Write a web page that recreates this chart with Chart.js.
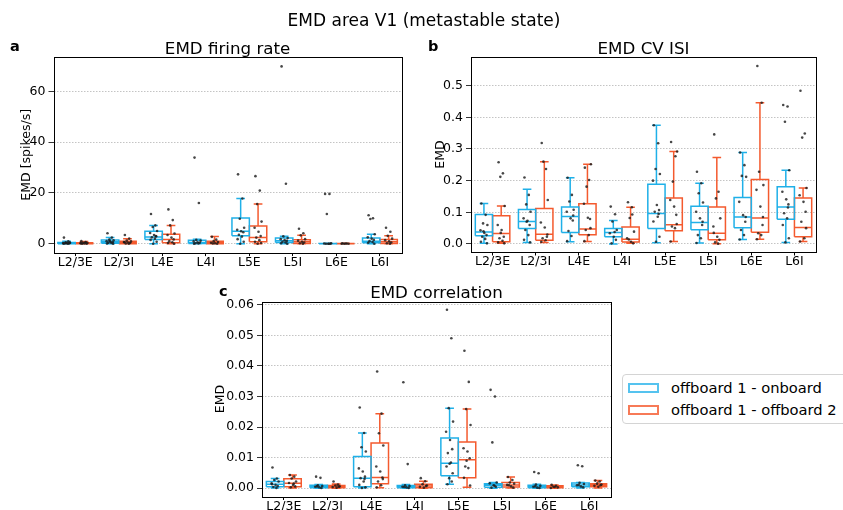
<!DOCTYPE html>
<html lang="en">
<head>
<meta charset="UTF-8">
<title>EMD area V1 (metastable state)</title>
<script src="https://cdn.jsdelivr.net/npm/chart.js"></script>
<style>
  body { margin: 0; background: #fff; font-family: "DejaVu Sans", sans-serif; }
  #page { position: relative; width: 843px; height: 510px; overflow: hidden; }
  #page canvas { position: absolute; left: 0; top: 0; }
  .txt { position: absolute; white-space: nowrap; line-height: 20px; color: #000; }
  .center { transform: translateX(-50%); }
  .letter { font-weight: bold; font-size: 14.5px; }
  .ttl { font-size: 16.7px; }
  #legend { position: absolute; left: 622px; top: 374px; width: 240px; height: 48px;
            border: 1px solid #d4d4d4; border-radius: 4px; background: #fff; }
  #legend .patch { position: absolute; left: 5px; width: 27px; height: 6px; background: #fff;
                   border-width: 2px; border-style: solid; }
  #legend .lab { position: absolute; left: 48px; font-size: 14.7px; line-height: 20px; white-space: nowrap; }
</style>
</head>
<body>
<div id="page">
  <canvas id="rateChart" width="843" height="510"></canvas>
  <canvas id="cvChart" width="843" height="510"></canvas>
  <canvas id="corrChart" width="843" height="510"></canvas>

  <div class="txt center" style="left:424px; top:10px; font-size:17px;">EMD area V1 (metastable state)</div>
  <div class="txt center ttl" style="left:227.6px; top:37.7px;">EMD firing rate</div>
  <div class="txt center ttl" style="left:643.5px; top:37.7px;">EMD CV ISI</div>
  <div class="txt center ttl" style="left:436.5px; top:282.2px;">EMD correlation</div>
  <div class="txt letter" style="left:10px; top:36px;">a</div>
  <div class="txt letter" style="left:428px; top:36px;">b</div>
  <div class="txt letter" style="left:219px; top:280.5px;">c</div>

  <div id="legend">
    <span class="patch" style="top:8px; border-color:#55c3ef;"></span>
    <span class="lab" style="top:3px;">offboard 1 - onboard</span>
    <span class="patch" style="top:30px; border-color:#f77a57;"></span>
    <span class="lab" style="top:25px;">offboard 1 - offboard 2</span>
  </div>
</div>

<script>
  const categories = ['L2/3E', 'L2/3I', 'L4E', 'L4I', 'L5E', 'L5I', 'L6E', 'L6I'];

  // ---- EMD firing rate (spikes/s) ----
  const rateTicks = ['0', '20', '40', '60'];
  const rateOnQ1 = [0.0, 0.2, 1.7, 0.1, 3.1, 0.5, 0.0, 0.4];
  const rateOnMed = [0.2, 0.8, 2.6, 0.5, 4.9, 1.2, 0.0, 1.0];
  const rateOnQ3 = [0.5, 1.5, 4.9, 1.4, 10.1, 2.2, 0.1, 2.2];
  const rateOnLo = [0, 0, 0, 0, 0, 0, 0, 0];
  const rateOnHi = [1.0, 2.4, 7.2, 1.8, 17.8, 2.9, 0.2, 3.7];
  const rateOnPts = [
    [2.4, 0.9, 0.6, 0.4, 0.3, 0.2, 0.1, 0.1, 0.0, 0.0, 0.5, 0.3],
    [4.1, 2.4, 1.6, 1.3, 1.0, 0.8, 0.6, 0.4, 0.3, 0.1, 0.0, 1.1],
    [11.7, 7.2, 6.6, 5.0, 4.2, 3.4, 2.9, 2.5, 2.0, 1.5, 0.8, 0.0, 3.0],
    [33.9, 16.0, 1.5, 1.2, 0.9, 0.6, 0.4, 0.2, 0.1, 0.0],
    [27.3, 17.8, 9.8, 6.3, 5.5, 4.9, 4.5, 3.5, 2.8, 1.8, 0.8, 0.0],
    [69.8, 23.6, 2.9, 2.2, 1.8, 1.4, 1.1, 0.8, 0.5, 0.2, 0.0],
    [19.6, 19.6, 11.7, 0.2, 0.1, 0.0, 0.0, 0.0, 0.0],
    [11.2, 10.0, 9.7, 3.7, 2.5, 2.0, 1.5, 1.0, 0.7, 0.4, 0.0]
  ];
  const rateOffQ1 = [0.0, 0.0, 0.4, 0.0, 0.8, 0.1, 0.0, 0.1];
  const rateOffMed = [0.1, 0.5, 1.7, 0.4, 2.4, 0.8, 0.0, 0.8];
  const rateOffQ3 = [0.4, 1.0, 3.7, 1.0, 7.0, 1.6, 0.1, 1.7];
  const rateOffLo = [0, 0, 0, 0, 0, 0, 0, 0];
  const rateOffHi = [0.9, 2.0, 7.2, 2.8, 15.6, 3.3, 0.2, 3.1];
  const rateOffPts = [
    [1.0, 0.7, 0.4, 0.3, 0.2, 0.1, 0.0, 0.0, 0.5, 0.2],
    [3.4, 2.0, 1.2, 0.9, 0.7, 0.5, 0.3, 0.1, 0.0, 0.6],
    [13.5, 9.3, 7.2, 4.0, 3.4, 2.4, 1.7, 1.0, 0.6, 0.3, 0.0],
    [2.7, 1.6, 1.0, 0.7, 0.4, 0.2, 0.0, 0.1],
    [26.6, 20.9, 15.6, 8.7, 6.3, 4.7, 3.0, 2.4, 1.4, 0.8, 0.3, 0.0],
    [5.9, 4.1, 3.3, 1.8, 1.2, 0.8, 0.5, 0.2, 0.0],
    [0.2, 0.1, 0.0, 0.0, 0.0, 0.1],
    [6.3, 4.7, 3.1, 2.0, 1.4, 0.9, 0.5, 0.2, 0.0]
  ];

  // ---- EMD CV ISI ----
  const cvTicks = ['0.0', '0.1', '0.2', '0.3', '0.4', '0.5'];
  const cvOnQ1 = [0.026, 0.049, 0.036, 0.023, 0.049, 0.045, 0.051, 0.078];
  const cvOnMed = [0.038, 0.071, 0.087, 0.036, 0.096, 0.068, 0.085, 0.117];
  const cvOnQ3 = [0.093, 0.109, 0.117, 0.049, 0.189, 0.119, 0.147, 0.181];
  const cvOnLo = [0.002, 0.005, 0.007, 0.0, 0.004, 0.003, 0.014, 0.005];
  const cvOnHi = [0.128, 0.173, 0.209, 0.074, 0.375, 0.192, 0.289, 0.233];
  const cvOnPts = [
    [0.128, 0.092, 0.065, 0.060, 0.043, 0.035, 0.028, 0.023, 0.016, 0.007, 0.002, 0.040],
    [0.210, 0.155, 0.125, 0.102, 0.081, 0.073, 0.060, 0.044, 0.028, 0.013, 0.005, 0.070],
    [0.209, 0.155, 0.134, 0.108, 0.102, 0.081, 0.074, 0.041, 0.025, 0.009, 0.090],
    [0.118, 0.094, 0.071, 0.044, 0.034, 0.023, 0.013, 0.002, 0.038],
    [0.375, 0.318, 0.237, 0.221, 0.200, 0.123, 0.107, 0.102, 0.086, 0.071, 0.023, 0.007, 0.095],
    [0.228, 0.192, 0.160, 0.131, 0.102, 0.081, 0.060, 0.028, 0.018, 0.003, 0.070],
    [0.289, 0.249, 0.215, 0.212, 0.133, 0.091, 0.070, 0.044, 0.028, 0.014, 0.085],
    [0.439, 0.434, 0.386, 0.233, 0.165, 0.141, 0.125, 0.097, 0.081, 0.060, 0.018, 0.005, 0.115]
  ];
  const cvOffQ1 = [0.007, 0.012, 0.029, 0.006, 0.042, 0.013, 0.037, 0.023];
  const cvOffMed = [0.033, 0.031, 0.047, 0.015, 0.061, 0.034, 0.082, 0.052];
  const cvOffQ3 = [0.089, 0.112, 0.127, 0.054, 0.145, 0.117, 0.204, 0.145];
  const cvOffLo = [0.002, 0.005, 0.008, 0.002, 0.008, 0.001, 0.015, 0.008];
  const cvOffHi = [0.120, 0.260, 0.252, 0.116, 0.292, 0.273, 0.446, 0.177];
  const cvOffPts = [
    [0.258, 0.223, 0.212, 0.120, 0.060, 0.044, 0.023, 0.018, 0.010, 0.005, 0.002, 0.035],
    [0.319, 0.237, 0.260, 0.139, 0.068, 0.052, 0.023, 0.018, 0.012, 0.007, 0.030],
    [0.241, 0.202, 0.181, 0.252, 0.127, 0.083, 0.079, 0.044, 0.028, 0.009, 0.050],
    [0.132, 0.093, 0.082, 0.039, 0.018, 0.007, 0.002, 0.014, 0.116],
    [0.322, 0.277, 0.197, 0.292, 0.139, 0.118, 0.092, 0.055, 0.050, 0.008, 0.063],
    [0.346, 0.165, 0.144, 0.081, 0.055, 0.023, 0.013, 0.005, 0.001, 0.035],
    [0.562, 0.446, 0.228, 0.186, 0.171, 0.118, 0.060, 0.034, 0.028, 0.015, 0.085],
    [0.484, 0.349, 0.336, 0.177, 0.154, 0.133, 0.102, 0.070, 0.018, 0.008, 0.050]
  ];

  // ---- EMD correlation ----
  const corrTicks = ['0.00', '0.01', '0.02', '0.03', '0.04', '0.05', '0.06'];
  const corrOnQ1 = [0.0005, 0.0002, 0.0005, 0.0002, 0.0041, 0.0003, 0.0002, 0.0005];
  const corrOnMed = [0.0013, 0.0006, 0.0033, 0.0005, 0.0082, 0.0010, 0.0006, 0.0011];
  const corrOnQ3 = [0.0022, 0.0010, 0.0104, 0.0009, 0.0164, 0.0015, 0.0010, 0.0017];
  const corrOnLo = [0.0001, 0.0, 0.0001, 0.0, 0.0013, 0.0, 0.0, 0.0001];
  const corrOnHi = [0.0032, 0.0012, 0.0181, 0.0012, 0.0262, 0.0019, 0.0013, 0.0019];
  const corrOnPts = [
    [0.0068, 0.0032, 0.0027, 0.0022, 0.0016, 0.0011, 0.0007, 0.0004, 0.0001, 0.0013],
    [0.0038, 0.0034, 0.0010, 0.0007, 0.0005, 0.0003, 0.0001, 0.0006],
    [0.0264, 0.0181, 0.0134, 0.0120, 0.0065, 0.0055, 0.0038, 0.0033, 0.0022, 0.0011, 0.0003, 0.0001, 0.0030],
    [0.0347, 0.0079, 0.0010, 0.0007, 0.0005, 0.0003, 0.0001, 0.0004],
    [0.0584, 0.0491, 0.0262, 0.0218, 0.0185, 0.0158, 0.0128, 0.0115, 0.0084, 0.0071, 0.0049, 0.0033, 0.0022, 0.0013, 0.0080],
    [0.0322, 0.0300, 0.0150, 0.0019, 0.0016, 0.0010, 0.0005, 0.0002, 0.0008],
    [0.0053, 0.0049, 0.0012, 0.0008, 0.0005, 0.0002, 0.0001, 0.0006],
    [0.0075, 0.0072, 0.0018, 0.0014, 0.0010, 0.0006, 0.0003, 0.0011]
  ];
  const corrOffQ1 = [0.0005, 0.0002, 0.0015, 0.0002, 0.0034, 0.0004, 0.0002, 0.0005];
  const corrOffMed = [0.0016, 0.0005, 0.0035, 0.0007, 0.0093, 0.0011, 0.0004, 0.0010];
  const corrOffQ3 = [0.0031, 0.0009, 0.0148, 0.0013, 0.0151, 0.0019, 0.0008, 0.0015];
  const corrOffLo = [0.0001, 0.0, 0.0002, 0.0, 0.0003, 0.0001, 0.0, 0.0001];
  const corrOffHi = [0.0043, 0.0014, 0.0244, 0.0023, 0.0259, 0.0037, 0.0011, 0.0025];
  const corrOffPts = [
    [0.0043, 0.0038, 0.0032, 0.0022, 0.0017, 0.0011, 0.0006, 0.0003, 0.0015],
    [0.0022, 0.0012, 0.0009, 0.0006, 0.0004, 0.0002, 0.0005],
    [0.0382, 0.0244, 0.0180, 0.0140, 0.0071, 0.0055, 0.0035, 0.0022, 0.0010, 0.0003, 0.0030],
    [0.0033, 0.0023, 0.0013, 0.0009, 0.0005, 0.0002, 0.0007],
    [0.0450, 0.0348, 0.0259, 0.0207, 0.0131, 0.0120, 0.0098, 0.0071, 0.0066, 0.0034, 0.0009, 0.0090],
    [0.0037, 0.0027, 0.0019, 0.0015, 0.0011, 0.0006, 0.0002, 0.0010],
    [0.0011, 0.0008, 0.0005, 0.0003, 0.0001, 0.0004],
    [0.0025, 0.0022, 0.0015, 0.0012, 0.0008, 0.0005, 0.0010]
  ];

  const BLUE = '#1fb0e8';
  const ORANGE = '#f45a2e';
  const FONT = 'DejaVu Sans';
  // horizontal spread of the strip points inside a box (fraction of a category)
  const JITTER = [-0.06, 0.04, -0.02, 0.08, -0.08, 0.01, 0.06, -0.04, 0.03, -0.07, 0.07, -0.01, 0.05, -0.05, 0.0];
  const HALF_BOX = 0.2;
  const HALF_CAP = 0.1;

  // one line path with gaps: box outline, median, whiskers and caps
  function boxPath(q1, med, q3, lo, hi, shift) {
    const pts = [];
    q1.forEach((a, i) => {
      const c = i + shift;
      const b = q3[i];
      const gap = {x: c, y: null};
      pts.push({x: c - HALF_BOX, y: a}, {x: c + HALF_BOX, y: a}, {x: c + HALF_BOX, y: b},
               {x: c - HALF_BOX, y: b}, {x: c - HALF_BOX, y: a}, gap);
      pts.push({x: c - HALF_BOX, y: med[i]}, {x: c + HALF_BOX, y: med[i]}, gap);
      pts.push({x: c, y: b}, {x: c, y: hi[i]}, gap);
      pts.push({x: c - HALF_CAP, y: hi[i]}, {x: c + HALF_CAP, y: hi[i]}, gap);
      pts.push({x: c, y: a}, {x: c, y: lo[i]}, gap);
      pts.push({x: c - HALF_CAP, y: lo[i]}, {x: c + HALF_CAP, y: lo[i]}, gap);
    });
    return pts;
  }

  function stripPoints(groups, shift) {
    const pts = [];
    groups.forEach((vals, i) => {
      vals.forEach((v, k) => pts.push({x: i + shift + JITTER[k % JITTER.length], y: v}));
    });
    return pts;
  }

  // frame around the plotting area
  const frame = {
    id: 'frame',
    afterDatasetsDraw(chart) {
      const {ctx, chartArea: a} = chart;
      ctx.save();
      ctx.strokeStyle = '#000';
      ctx.lineWidth = 1;
      ctx.strokeRect(Math.round(a.left) + 0.5, Math.round(a.top) + 0.5,
                     Math.round(a.right - a.left), Math.round(a.bottom - a.top));
      ctx.restore();
    }
  };

  function drawPanel(id, area, yLabels, yTitle, titlePad, yMin, yMax, on, off) {
    const datasets = [
      {type: 'scatter', data: stripPoints(on.pts, -HALF_BOX), pointRadius: 1.3, borderWidth: 0,
       pointBackgroundColor: 'rgba(25,25,25,0.8)', order: 0},
      {type: 'scatter', data: stripPoints(off.pts, HALF_BOX), pointRadius: 1.3, borderWidth: 0,
       pointBackgroundColor: 'rgba(25,25,25,0.8)', order: 0},
      {type: 'line', data: boxPath(on.q1, on.med, on.q3, on.lo, on.hi, -HALF_BOX), borderColor: BLUE,
       borderWidth: 1.5, pointRadius: 0, spanGaps: false, fill: false, tension: 0, order: 1},
      {type: 'line', data: boxPath(off.q1, off.med, off.q3, off.lo, off.hi, HALF_BOX), borderColor: ORANGE,
       borderWidth: 1.5, pointRadius: 0, spanGaps: false, fill: false, tension: 0, order: 1}
    ];

    new Chart(document.getElementById(id), {
      type: 'line',
      data: {datasets},
      options: {
        responsive: false,
        animation: false,
        events: [],
        layout: {padding: {left: area.left - 50, top: area.top, right: 843 - area.right, bottom: 0}},
        plugins: {legend: {display: false}, tooltip: {enabled: false}},
        scales: {
          x: {
            type: 'linear',
            min: -0.5,
            max: 7.5,
            afterBuildTicks: s => { s.ticks = categories.map((_, i) => ({value: i})); },
            afterFit: s => { s.height = 510 - area.bottom; },
            ticks: {autoSkip: false, maxRotation: 0, padding: -1, color: '#000',
                    font: {family: FONT, size: 12.5}, callback: v => categories[v]},
            grid: {drawOnChartArea: false, tickLength: 3.5, color: '#000'},
            border: {display: false}
          },
          y: {
            type: 'linear',
            min: yMin,
            max: yMax,
            afterBuildTicks: s => { s.ticks = yLabels.map(t => ({value: parseFloat(t)})); },
            afterFit: s => { s.width = 50; },
            ticks: {padding: 3, color: '#000', font: {family: FONT, size: 12.5},
                    callback: (v, i) => yLabels[i]},
            grid: {color: '#b5b5b5', lineWidth: 0.8, tickColor: '#000', tickLength: 5},
            border: {display: false, dash: [1.5, 1.5]},
            title: {display: true, text: yTitle, color: '#000', padding: {top: titlePad, bottom: 0},
                    font: {family: FONT, size: 12.5}}
          }
        }
      },
      plugins: [frame]
    });
  }

  drawPanel('rateChart', {left: 53.5, right: 401.7, top: 57, bottom: 252.6}, rateTicks,
    'EMD [spikes/s]', 15.7, -3.5, 73.5,
    {q1: rateOnQ1, med: rateOnMed, q3: rateOnQ3, lo: rateOnLo, hi: rateOnHi, pts: rateOnPts},
    {q1: rateOffQ1, med: rateOffMed, q3: rateOffQ3, lo: rateOffLo, hi: rateOffHi, pts: rateOffPts});

  drawPanel('cvChart', {left: 471, right: 816, top: 57, bottom: 252}, cvTicks,
    'EMD', 12, -0.0253, 0.5905,
    {q1: cvOnQ1, med: cvOnMed, q3: cvOnQ3, lo: cvOnLo, hi: cvOnHi, pts: cvOnPts},
    {q1: cvOffQ1, med: cvOffMed, q3: cvOffQ3, lo: cvOffLo, hi: cvOffHi, pts: cvOffPts});

  drawPanel('corrChart', {left: 262, right: 611, top: 301.5, bottom: 496.5}, corrTicks,
    'EMD', 1, -0.0027, 0.0611,
    {q1: corrOnQ1, med: corrOnMed, q3: corrOnQ3, lo: corrOnLo, hi: corrOnHi, pts: corrOnPts},
    {q1: corrOffQ1, med: corrOffMed, q3: corrOffQ3, lo: corrOffLo, hi: corrOffHi, pts: corrOffPts});
</script>
</body>
</html>
